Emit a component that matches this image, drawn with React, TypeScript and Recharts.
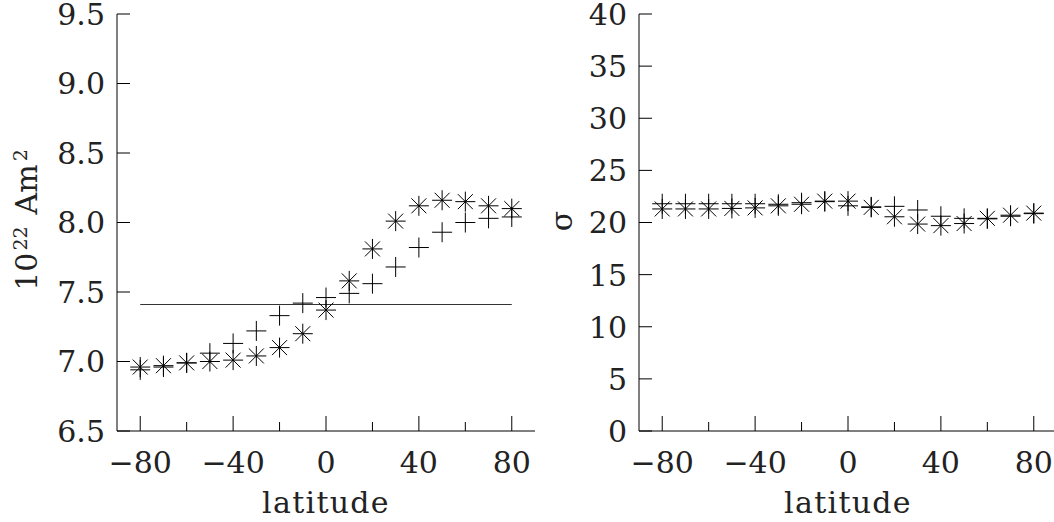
import React from 'react';
import { ScatterChart, Scatter, XAxis, YAxis, ReferenceLine } from 'recharts';

const latitudes = [-80, -70, -60, -50, -40, -30, -20, -10, 0, 10, 20, 30, 40, 50, 60, 70, 80];
const momentStar = [6.96, 6.97, 6.99, 7.0, 7.01, 7.04, 7.1, 7.2, 7.37, 7.58, 7.81, 8.01, 8.12, 8.16, 8.15, 8.12, 8.1];
const momentPlus = [6.94, 6.96, 6.99, 7.06, 7.13, 7.22, 7.33, 7.42, 7.46, 7.49, 7.56, 7.68, 7.82, 7.93, 8.0, 8.03, 8.04];
const momentMean = 7.41;
const sigmaStar = [21.3, 21.3, 21.3, 21.35, 21.4, 21.6, 21.75, 22.05, 22.05, 21.45, 20.55, 19.85, 19.7, 19.9, 20.4, 20.7, 20.9];
const sigmaPlus = [21.8, 21.8, 21.8, 21.8, 21.8, 21.75, 21.9, 22.0, 21.6, 21.5, 21.55, 21.2, 20.6, 20.4, 20.35, 20.6, 20.85];

const xTicks = [-80, -60, -40, -20, 0, 20, 40, 60, 80];
const leftYTicks = [6.5, 7.0, 7.5, 8.0, 8.5, 9.0, 9.5];
const rightYTicks = [0, 5, 10, 15, 20, 25, 30, 35, 40];

const FONT = '"DejaVu Serif", serif';
const FS = 30;
const TEXT_FILL = '#222';

const toPts = (vals: number[]) => latitudes.map((x, i) => ({ x, y: vals[i] }));

const Asterisk = (props: any) => {
  const { cx, cy } = props;
  const r = 10;
  const d = 7.5;
  return (
    <g stroke="#000" strokeWidth={1}>
      <line x1={cx - r} y1={cy} x2={cx + r} y2={cy} />
      <line x1={cx} y1={cy - r} x2={cx} y2={cy + r} />
      <line x1={cx - d} y1={cy - d} x2={cx + d} y2={cy + d} />
      <line x1={cx - d} y1={cy + d} x2={cx + d} y2={cy - d} />
    </g>
  );
};

const Plus = (props: any) => {
  const { cx, cy } = props;
  const r = 10;
  return (
    <g stroke="#000" strokeWidth={1}>
      <line x1={cx - r} y1={cy} x2={cx + r} y2={cy} />
      <line x1={cx} y1={cy - r} x2={cx} y2={cy + r} />
    </g>
  );
};

const fmtLat = (v: number) => (v < 0 ? '\u2212' + Math.abs(v) : String(v));

const XTick = (props: any) => {
  const { x, y, payload } = props;
  const v = payload.value;
  const major = v % 40 === 0;
  const len = major ? 15 : 9;
  return (
    <g>
      <line x1={x} y1={y} x2={x} y2={y - len} stroke="#000" strokeWidth={1} />
      {major && (
        <text x={x} y={y + 42} textAnchor="middle" fontFamily={FONT} fontSize={FS} fill={TEXT_FILL}>
          {fmtLat(v)}
        </text>
      )}
    </g>
  );
};

const makeYTick = (fmt: (v: number) => string) => (props: any) => {
  const { x, y, payload } = props;
  return (
    <g>
      <line x1={x} y1={y} x2={x + 13} y2={y} stroke="#000" strokeWidth={1} />
      <text x={x - 12} y={y} dy="0.365em" textAnchor="end" fontFamily={FONT} fontSize={FS} fill={TEXT_FILL}>
        {fmt(payload.value)}
      </text>
    </g>
  );
};

const makeXTick = () => (props: any) => <XTick {...props} />;

const XLabel = (props: any) => {
  const vb = props.viewBox || {};
  const cx = (vb.x || 0) + (vb.width || 0) / 2;
  return (
    <text x={cx} y={513} textAnchor="middle" fontFamily={FONT} fontSize={FS} fill={TEXT_FILL} letterSpacing={1.3}>
      latitude
    </text>
  );
};

const LeftYLabel = () => (
  <text transform="translate(37,220) rotate(-90)" textAnchor="middle" fontFamily={FONT} fontSize={FS} fill={TEXT_FILL}>
    <tspan>10</tspan>
    <tspan fontSize={19} dy={-10} dx={2}>22</tspan>
    <tspan dy={10} dx={12}>Am</tspan>
    <tspan fontSize={19} dy={-10} dx={3}>2</tspan>
  </text>
);

const RightYLabel = () => (
  <text transform="translate(33,221) rotate(-90)" textAnchor="middle" fontFamily={FONT} fontSize={FS} fill={TEXT_FILL}>
    σ
  </text>
);

const axisLine = { stroke: '#000', strokeWidth: 1 };

export default function App() {
  return (
    <div style={{ position: 'absolute', left: 0, top: 0, width: 1054, height: 522, overflow: 'hidden', background: '#fff' }}>
      <div style={{ position: 'absolute', left: 0, top: 0 }}>
        <ScatterChart width={545} height={522} margin={{ top: 14, right: 10, bottom: 0, left: 0 }}>
          <XAxis
            type="number"
            dataKey="x"
            domain={[-90, 90]}
            ticks={xTicks}
            interval={0}
            height={91}
            tickLine={false}
            tickSize={0}
            tickMargin={0}
            axisLine={axisLine}
            tick={makeXTick()}
            label={<XLabel />}
          />
          <YAxis
            type="number"
            dataKey="y"
            domain={[6.5, 9.5]}
            ticks={leftYTicks}
            interval={0}
            width={117}
            tickLine={false}
            tickSize={0}
            tickMargin={0}
            axisLine={axisLine}
            tick={makeYTick((v) => v.toFixed(1))}
            label={<LeftYLabel />}
          />
          <ReferenceLine
            segment={[
              { x: latitudes[0], y: momentMean },
              { x: latitudes[latitudes.length - 1], y: momentMean },
            ]}
            stroke="#333"
            strokeWidth={1}
            ifOverflow="visible"
          />
          <Scatter data={toPts(momentPlus)} shape={<Plus />} isAnimationActive={false} />
          <Scatter data={toPts(momentStar)} shape={<Asterisk />} isAnimationActive={false} />
        </ScatterChart>
      </div>
      <div style={{ position: 'absolute', left: 539, top: 0 }}>
        <ScatterChart width={518} height={522} margin={{ top: 14, right: 0, bottom: 0, left: 0 }}>
          <XAxis
            type="number"
            dataKey="x"
            domain={[-90, 90]}
            ticks={xTicks}
            interval={0}
            height={91}
            tickLine={false}
            tickSize={0}
            tickMargin={0}
            axisLine={axisLine}
            tick={makeXTick()}
            label={<XLabel />}
          />
          <YAxis
            type="number"
            dataKey="y"
            domain={[0, 40]}
            ticks={rightYTicks}
            interval={0}
            width={100}
            tickLine={false}
            tickSize={0}
            tickMargin={0}
            axisLine={axisLine}
            tick={makeYTick((v) => String(v))}
            label={<RightYLabel />}
          />
          <Scatter data={toPts(sigmaPlus)} shape={<Plus />} isAnimationActive={false} />
          <Scatter data={toPts(sigmaStar)} shape={<Asterisk />} isAnimationActive={false} />
        </ScatterChart>
      </div>
    </div>
  );
}
